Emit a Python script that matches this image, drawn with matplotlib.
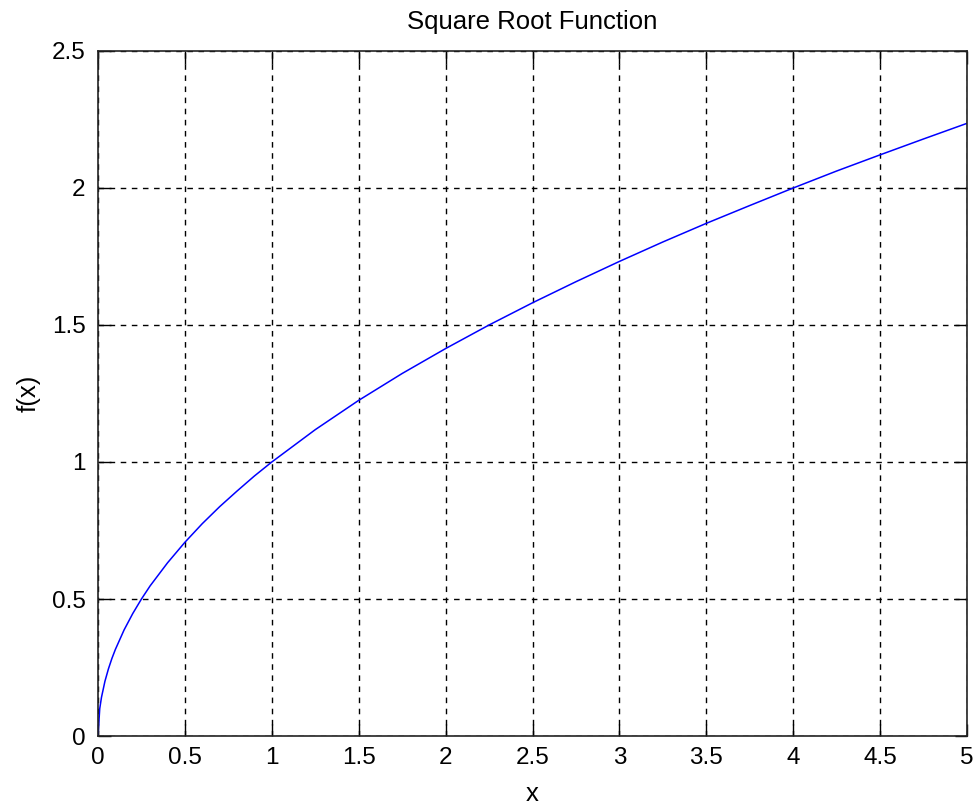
import matplotlib
matplotlib.use("Agg")
import matplotlib.pyplot as plt

x_vals = [0, 0.01, 0.02, 0.04, 0.06, 0.08, 0.1, 0.15, 0.2, 0.25, 0.3, 0.4, 0.5,
          0.6, 0.7, 0.8, 0.9, 1.0, 1.25, 1.5, 1.75, 2.0, 2.25, 2.5, 2.75, 3.0,
          3.25, 3.5, 3.75, 4.0, 4.25, 4.5, 4.75, 5.0]
y_vals = [0, 0.10, 0.141, 0.20, 0.245, 0.283, 0.316, 0.387, 0.447, 0.50, 0.548,
          0.632, 0.707, 0.775, 0.837, 0.894, 0.949, 1.0, 1.118, 1.225, 1.323,
          1.414, 1.5, 1.581, 1.658, 1.732, 1.803, 1.871, 1.936, 2.0, 2.062,
          2.121, 2.179, 2.236]
x_ticks = [0, 0.5, 1, 1.5, 2, 2.5, 3, 3.5, 4, 4.5, 5]
x_ticklabels = ["0", "0.5", "1", "1.5", "2", "2.5", "3", "3.5", "4", "4.5", "5"]
y_ticks = [0, 0.5, 1, 1.5, 2, 2.5]
y_ticklabels = ["0", "0.5", "1", "1.5", "2", "2.5"]

plt.rcParams['font.family'] = ['Liberation Sans', 'DejaVu Sans']

fig = plt.figure(figsize=(9.76, 8.05), dpi=100)
ax = fig.add_axes([98/976, 1-736/805, (967-98)/976, (736-51)/805])
ax.plot(x_vals, y_vals, color=(0, 0, 1), linewidth=1.1)
ax.set_xlim(0, 5)
ax.set_ylim(0, 2.5)
ax.set_xticks(x_ticks)
ax.set_xticklabels(x_ticklabels)
ax.set_yticks(y_ticks)
ax.set_yticklabels(y_ticklabels)
ax.grid(True, color='black', linestyle=(0, (4, 4)), linewidth=1.0)
ax.tick_params(direction='in', length=9, width=1, top=True, right=True,
               labelsize=17.5, colors='black')
ax.tick_params(axis='x', pad=8)
ax.tick_params(axis='y', pad=9)
for s in ax.spines.values():
    s.set_linewidth(1.2)
    s.set_color('#222222')
ax.set_title("Square Root Function", fontsize=18.5, pad=16)
ax.set_xlabel("x", fontsize=18.5, labelpad=9)
ax.set_ylabel("f(x)", fontsize=18.5, labelpad=8)
fig.savefig("out.png", dpi=100)
